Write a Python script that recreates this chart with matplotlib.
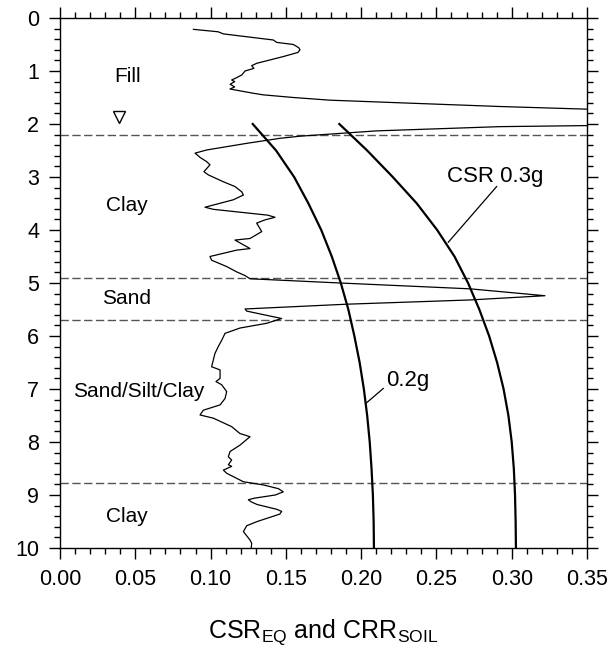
import matplotlib
matplotlib.use('Agg')
import matplotlib.pyplot as plt
from matplotlib.ticker import MultipleLocator

plt.rcParams['font.family'] = ['Liberation Sans', 'DejaVu Sans']
plt.rcParams['mathtext.fontset'] = 'custom'
plt.rcParams['mathtext.rm'] = 'Liberation Sans'
plt.rcParams['mathtext.it'] = 'Liberation Sans:italic'

# CRR soil profile (value, depth)
crr_val = [0.0886, 0.105, 0.1085, 0.1417, 0.1439, 0.155, 0.1585, 0.1594, 0.158, 0.148,
           0.1306, 0.1273, 0.1288, 0.1229, 0.1207, 0.1173, 0.114, 0.116, 0.113,
           0.116, 0.1129, 0.1284, 0.135, 0.155, 0.179, 0.2258, 0.2922, 0.35,
           0.42, 0.35, 0.292, 0.21, 0.1594, 0.1461, 0.124, 0.0974, 0.0897,
           0.093, 0.0974, 0.0996, 0.0956, 0.0985, 0.1085, 0.1162, 0.1207,
           0.1218, 0.1151, 0.0963, 0.1018, 0.138, 0.1428, 0.136, 0.1306, 0.134, 0.1262,
           0.1162, 0.1262, 0.1173, 0.0996, 0.1007, 0.1107, 0.1173, 0.1229,
           0.1262, 0.186, 0.2723, 0.3221, 0.2723, 0.1904, 0.1229, 0.124,
           0.1472, 0.1373, 0.1195, 0.1096, 0.1074, 0.1051, 0.1029, 0.1007,
           0.1063, 0.1063, 0.1036, 0.1074, 0.1107, 0.1096, 0.1063, 0.0952,
           0.093, 0.1018, 0.114, 0.1195, 0.1262, 0.1195, 0.1129, 0.1118,
           0.114, 0.1118, 0.114, 0.1085, 0.1107, 0.1218, 0.135, 0.145, 0.1483,
           0.143, 0.129, 0.1251, 0.127, 0.131, 0.144, 0.1472, 0.146, 0.131, 0.124,
           0.1218, 0.1262, 0.1273, 0.127]
crr_depth = [0.214, 0.26, 0.30, 0.415, 0.46, 0.50, 0.56, 0.60, 0.65, 0.73,
             0.855, 0.90, 0.95, 1.0, 1.075, 1.126, 1.17, 1.2, 1.25,
             1.3, 1.34, 1.42, 1.45, 1.50, 1.55, 1.6, 1.67, 1.72,
             1.88, 2.03, 2.05, 2.13, 2.23, 2.27, 2.365, 2.49, 2.55,
             2.63, 2.71, 2.77, 2.9, 2.96, 3.09, 3.18, 3.28,
             3.34, 3.43, 3.57, 3.61, 3.72, 3.76, 3.81, 3.87, 4.03, 4.16,
             4.19, 4.35, 4.38, 4.50, 4.57, 4.69, 4.79, 4.86,
             4.92, 5.0, 5.11, 5.24, 5.32, 5.40, 5.49, 5.53,
             5.67, 5.76, 5.85, 5.95, 6.08, 6.2, 6.33, 6.58,
             6.64, 6.8, 6.86, 6.92, 7.05, 7.18, 7.3, 7.4,
             7.49, 7.55, 7.71, 7.84, 7.9, 8.06, 8.18, 8.28,
             8.34, 8.43, 8.46, 8.53, 8.59, 8.75, 8.81, 8.88, 8.94,
             9.0, 9.06, 9.09, 9.13, 9.18, 9.27, 9.31, 9.36, 9.5, 9.58,
             9.69, 9.85, 9.91, 10.0]

# CSR curves
csr02_val = [0.128, 0.1435, 0.1555, 0.1650, 0.1735, 0.1805, 0.1865, 0.1915, 0.1955,
             0.1990, 0.2018, 0.2040, 0.2057, 0.2069, 0.2078, 0.2083, 0.2085]
csr02_depth = [2.0, 2.5, 3.0, 3.5, 4.0, 4.5, 5.0, 5.5, 6.0,
               6.5, 7.0, 7.5, 8.0, 8.5, 9.0, 9.5, 10.0]
csr03_val = [0.1855, 0.2040, 0.2210, 0.2370, 0.2505, 0.2620, 0.2710, 0.2785, 0.2850,
             0.2903, 0.2946, 0.2978, 0.3000, 0.3014, 0.3022, 0.3026, 0.3028]
csr03_depth = [2.0, 2.5, 3.0, 3.5, 4.0, 4.5, 5.0, 5.5, 6.0,
               6.5, 7.0, 7.5, 8.0, 8.5, 9.0, 9.5, 10.0]

layer_bounds = [2.2, 4.9, 5.7, 8.78]
layer_names = ['Fill', 'Clay', 'Sand', 'Sand/Silt/Clay', 'Clay']
layer_x = [0.0448, 0.0442, 0.0445, 0.0525, 0.0442]
layer_y = [1.10, 3.53, 5.3, 7.04, 9.4]

fig = plt.figure(figsize=(6.12, 6.55), dpi=100)
ax = fig.add_axes([60/612, 1 - 548/655, 527/612, 530/655])

for d in layer_bounds:
    ax.axhline(d, color='#555555', lw=1.0, dashes=(6, 2.5))

ax.plot(crr_val, crr_depth, color='black', lw=0.9)
ax.plot(csr02_val, csr02_depth, color='black', lw=1.6)
ax.plot(csr03_val, csr03_depth, color='black', lw=1.6)

# water table
ax.plot([0.0394], [1.87], marker='v', ms=9, mfc='white', mec='black', mew=1.0)

for name, x, y in zip(layer_names, layer_x, layer_y):
    ax.text(x, y, name, fontsize=15, ha='center', va='center')

ax.text(0.2568, 3.09, 'CSR 0.3g', fontsize=16, ha='left', va='baseline')
ax.plot([0.29, 0.2579], [3.18, 4.23], color='black', lw=0.9)
ax.text(0.2165, 6.94, '0.2g', fontsize=16, ha='left', va='baseline')
ax.plot([0.2147, 0.2032], [6.99, 7.27], color='black', lw=0.9)

ax.set_xlim(0, 0.35)
ax.set_ylim(10, 0)
ax.xaxis.set_major_locator(MultipleLocator(0.05))
ax.xaxis.set_minor_locator(MultipleLocator(0.01))
ax.yaxis.set_major_locator(MultipleLocator(1))
ax.yaxis.set_minor_locator(MultipleLocator(0.2))
ax.xaxis.set_major_formatter(plt.FormatStrFormatter('%.2f'))
ax.tick_params(which='both', direction='out', top=True, right=True, width=1.0,
               labelsize=15.5)
ax.tick_params(which='major', length=8, pad=7)
ax.tick_params(which='minor', length=4.5)
for s in ax.spines.values():
    s.set_linewidth(1.0)

ax.set_xlabel(r'CSR$_{\rm EQ}$ and CRR$_{\rm SOIL}$', fontsize=18, labelpad=20)

fig.savefig('out.png', dpi=100)
